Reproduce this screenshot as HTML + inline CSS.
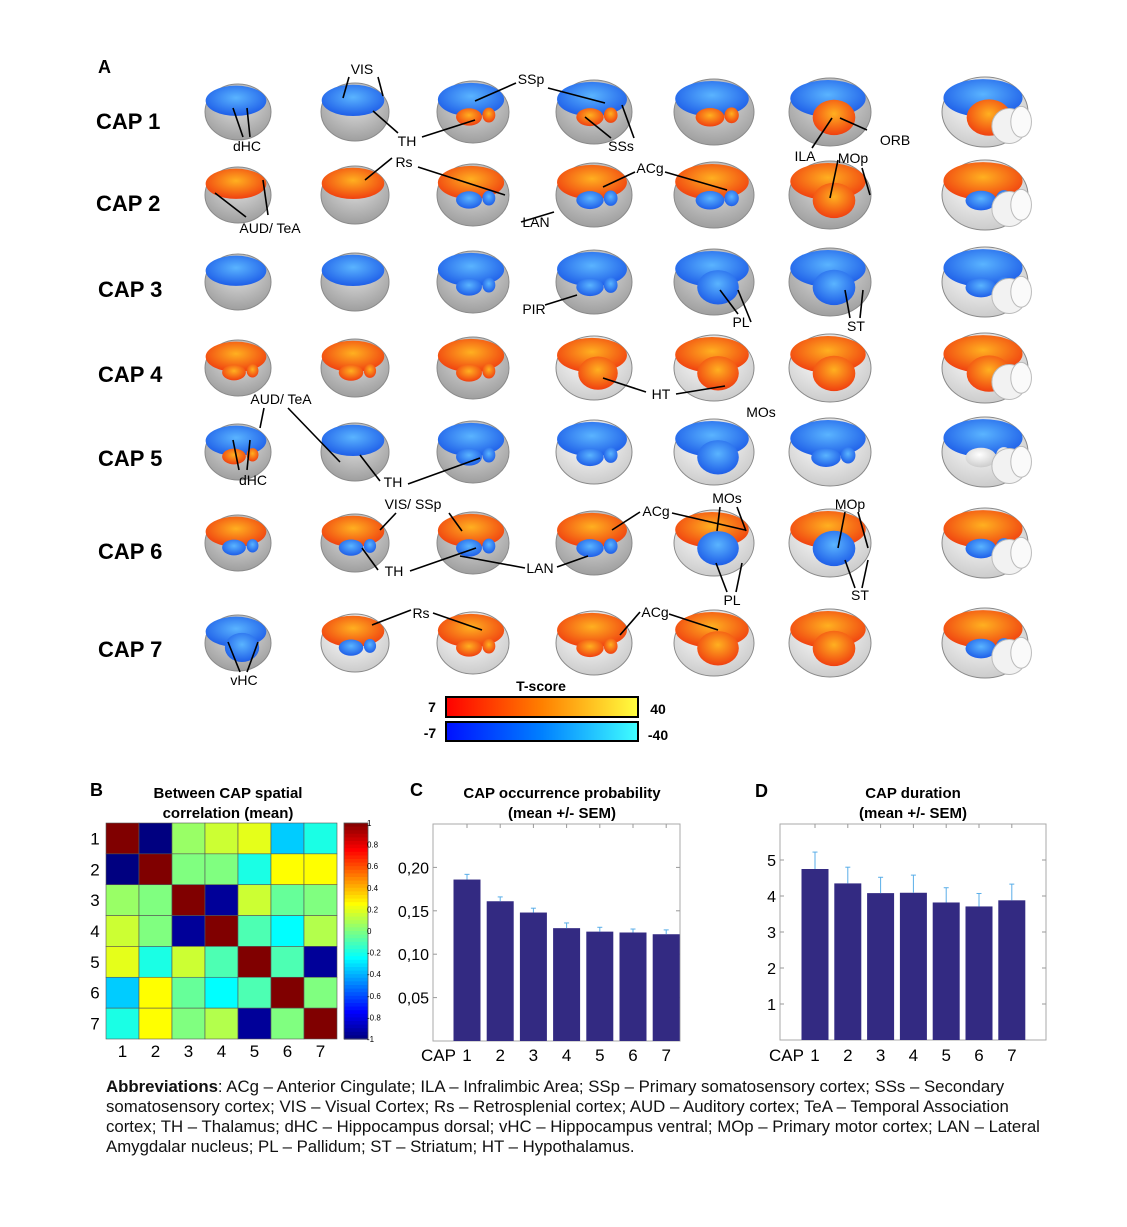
<!DOCTYPE html>
<html><head><meta charset="utf-8">
<style>
body{margin:0;background:#fff;}
#root{position:relative;width:1127px;height:1227px;overflow:hidden;font-family:"Liberation Sans",Arial,sans-serif;}
svg text{font-family:"Liberation Sans",Arial,sans-serif;}
.abbr{position:absolute;left:106px;top:1077px;width:945px;font-size:16.8px;line-height:20px;color:#111;}
</style></head>
<body>
<div id="root">
<svg id="fig" width="1127" height="1227" xmlns="http://www.w3.org/2000/svg">
<defs>
<linearGradient id="gRed" x1="0" x2="1"><stop offset="0" stop-color="#ff0000"/><stop offset="0.5" stop-color="#ff8000"/><stop offset="1" stop-color="#ffff40"/></linearGradient>
<linearGradient id="gBlue" x1="0" x2="1"><stop offset="0" stop-color="#0010ff"/><stop offset="0.5" stop-color="#0080ff"/><stop offset="1" stop-color="#40ffff"/></linearGradient>
<radialGradient id="rb" cx="0.5" cy="0.4" r="0.6"><stop offset="0" stop-color="#5ab4ff"/><stop offset="1" stop-color="#1e5ee8"/></radialGradient>
<radialGradient id="rr" cx="0.5" cy="0.4" r="0.6"><stop offset="0" stop-color="#ffb020"/><stop offset="1" stop-color="#f04010"/></radialGradient>
<radialGradient id="rg" cx="0.5" cy="0.35" r="0.7"><stop offset="0" stop-color="#e0e0e0"/><stop offset="1" stop-color="#9a9a9a"/></radialGradient>
<radialGradient id="rw" cx="0.45" cy="0.35" r="0.7"><stop offset="0" stop-color="#ffffff"/><stop offset="1" stop-color="#c8c8c8"/></radialGradient>
</defs>
<text x="98" y="73" font-size="18" font-weight="bold">A</text>
<g id="brains"></g>
<g id="labels"></g>
<g>
<text x="541" y="691" font-size="14" font-weight="bold" text-anchor="middle">T-score</text>
<rect x="446" y="697" width="192" height="20" fill="url(#gRed)" stroke="#000" stroke-width="2"/>
<rect x="446" y="722" width="192" height="19" fill="url(#gBlue)" stroke="#000" stroke-width="2"/>
<text x="432" y="712" font-size="14" font-weight="bold" text-anchor="middle">7</text>
<text x="658" y="714" font-size="14" font-weight="bold" text-anchor="middle">40</text>
<text x="430" y="738" font-size="14" font-weight="bold" text-anchor="middle">-7</text>
<text x="658" y="740" font-size="14" font-weight="bold" text-anchor="middle">-40</text>
</g>
<g id="panelB"></g>
<g id="panelC"></g>
<g id="panelD"></g>
</svg>
<div class="abbr"><b>Abbreviations</b>: ACg – Anterior Cingulate; ILA – Infralimbic Area; SSp – Primary somatosensory cortex; SSs – Secondary somatosensory cortex; VIS – Visual Cortex; Rs – Retrosplenial cortex; AUD – Auditory cortex; TeA – Temporal Association cortex; TH – Thalamus; dHC – Hippocampus dorsal; vHC – Hippocampus ventral; MOp – Primary motor cortex; LAN – Lateral Amygdalar nucleus; PL – Pallidum; ST – Striatum; HT – Hypothalamus.</div>
</div>
<script>
// ---------- Panel B data ----------
const capIds = ["1","2","3","4","5","6","7"];
const corrRow1 = [1,-1,0.05,0.15,0.2,-0.35,-0.2];
const corrRow2 = [-1,1,0.0,0.0,-0.2,0.25,0.25];
const corrRow3 = [0.05,0.0,1,-0.95,0.15,-0.05,0.0];
const corrRow4 = [0.15,0.0,-0.95,1,-0.1,-0.25,0.1];
const corrRow5 = [0.2,-0.2,0.15,-0.1,1,-0.1,-0.95];
const corrRow6 = [-0.35,0.25,-0.05,-0.25,-0.1,1,0.0];
const corrRow7 = [-0.2,0.25,0.0,0.1,-0.95,0.0,1];
const colorbarTicks = [1,0.8,0.6,0.4,0.2,0,-0.2,-0.4,-0.6,-0.8,-1];
// ---------- Panel C data ----------
const occMean = [0.186,0.161,0.148,0.130,0.126,0.125,0.123];
const occErr = [0.006,0.005,0.005,0.006,0.005,0.004,0.005];
const occTicks = [0.05,0.10,0.15,0.20];
const occTickLabels = ["0,05","0,10","0,15","0,20"];
// ---------- Panel D data ----------
const durMean = [4.75,4.35,4.08,4.09,3.82,3.71,3.88];
const durErr = [0.47,0.45,0.44,0.49,0.41,0.36,0.45];
const durTicks = [1,2,3,4,5];

const NS="http://www.w3.org/2000/svg";
function mk(parent,tag,attrs,txt){const e=document.createElementNS(NS,tag);for(const k in attrs)e.setAttribute(k,attrs[k]);if(txt!==undefined)e.textContent=txt;parent.appendChild(e);return e;}

// ---------- Brains ----------
const bx=[238,355,473,594,714,830,985], by=[112,195,282,368,452,543,643];
const ly=[121,203,289,374,458,551,649];
const bw=[66,68,72,76,80,82,86], bh=[56,58,62,64,66,68,70];
const rowSpec=[
 [["b","g","g"],["b","g","g"],["b","r","g"],["b","r","g"],["b","r","g"],["b","R","g"],["b","R","w"]],
 [["r","g","g"],["r","g","g"],["r","b","g"],["r","b","g"],["r","b","g"],["r","R","g"],["r","b","w"]],
 [["b","g","g"],["b","g","g"],["b","b","g"],["b","b","g"],["b","B","g"],["b","B","g"],["b","b","w"]],
 [["r","r","g"],["r","r","g"],["r","r","g"],["r","R","w"],["r","R","w"],["r","R","w"],["r","R","w"]],
 [["b","r","g"],["b","g","g"],["b","b","g"],["b","b","w"],["b","B","w"],["b","b","w"],["b","w","w"]],
 [["r","b","g"],["r","b","g"],["r","b","g"],["r","b","g"],["r","B","w"],["r","B","w"],["r","b","w"]],
 [["b","B","g"],["r","b","w"],["r","r","w"],["r","r","w"],["r","R","w"],["r","R","w"],["r","b","w"]]
];
const fillOf={b:"url(#rb)",B:"url(#rb)",r:"url(#rr)",R:"url(#rr)",g:"url(#rg)",w:"url(#rw)"};
const brains=document.getElementById('brains');
for(let r=0;r<7;r++){
  const t=mk(brains,'text',{x:r<2?96:98,y:ly[r]+8,'font-size':22,'font-weight':'bold'},'CAP '+(r+1));
  
  
  for(let c=0;c<7;c++){
    const s=rowSpec[r][c],cx=bx[c],cy=by[r],w=bw[c],h=bh[c];
    const g=mk(brains,'g',{});
    
    
    mk(g,'ellipse',{cx:cx,cy:cy,rx:w/2,ry:h/2,fill:fillOf[s[2]],stroke:'#8a8a8a','stroke-width':1});
    mk(g,'ellipse',{cx:cx-2,cy:cy-h*0.2,rx:w*0.46,ry:h*0.27,fill:fillOf[s[0]]});
    if(s[1]!=='g'){
      const big=(s[1]===s[1].toUpperCase());
      mk(g,'ellipse',{cx:cx+(big?4:-4),cy:cy+h*0.08,rx:w*(big?0.26:0.18),ry:h*(big?0.26:0.14),fill:fillOf[s[1]]});
      if(!big) mk(g,'ellipse',{cx:cx+w*0.22,cy:cy+h*0.05,rx:w*0.09,ry:h*0.12,fill:fillOf[s[1]]});
    }
    if(c===6){
      mk(g,'ellipse',{cx:cx+w*0.28,cy:cy+h*0.2,rx:w*0.2,ry:h*0.25,fill:'#f2f2f2',stroke:'#bbb'});
      mk(g,'ellipse',{cx:cx+w*0.42,cy:cy+h*0.14,rx:w*0.12,ry:h*0.22,fill:'#fafafa',stroke:'#bbb'});
    }
  }
}
// ---------- Annotations ----------
const labs=[["VIS",362,69],["SSp",531,79],["dHC",247,146],["TH",407,141],["SSs",621,146],["ORB",895,140],["ILA",805,156],["MOp",853,158],["Rs",404,162],["ACg",650,168],["AUD/ TeA",270,228],["LAN",536,222],["PIR",534,309],["PL",741,322],["ST",856,326],["HT",661,394],["AUD/ TeA",281,399],["MOs",761,412],["dHC",253,480],["TH",393,482],["VIS/ SSp",413,504],["ACg",656,511],["MOs",727,498],["MOp",850,504],["TH",394,571],["LAN",540,568],["PL",732,600],["ST",860,595],["Rs",421,613],["ACg",655,612],["vHC",244,680]];
const lines=[[233,108,243,137],[247,108,250,137],[349,77,343,98],[378,77,383,96],[398,133,373,111],[422,137,475,120],[516,83,475,101],[548,88,605,103],[611,138,585,117],[634,138,622,105],[867,130,840,118],[812,148,832,118],[838,160,830,198],[862,168,870,195],[392,158,365,180],[418,167,505,195],[246,217,215,193],[268,215,263,180],[635,172,603,187],[665,172,727,190],[521,222,554,212],[545,305,577,295],[738,314,720,290],[751,322,738,290],[850,318,845,290],[860,318,863,290],[646,392,603,378],[676,394,725,386],[264,408,260,428],[288,408,340,462],[239,470,233,440],[247,470,250,440],[380,481,360,455],[408,484,480,458],[396,513,380,530],[449,513,462,531],[640,512,612,530],[672,513,745,530],[720,507,717,531],[737,507,746,531],[845,512,838,548],[858,512,868,548],[378,570,362,548],[410,571,476,548],[525,568,460,556],[557,567,588,556],[727,592,716,563],[736,592,742,563],[855,588,845,560],[862,588,868,560],[411,610,372,625],[433,613,482,630],[640,612,620,635],[669,614,718,630],[240,672,228,642],[247,672,258,642]];
const L=document.getElementById('labels');
lines.forEach(l=>{const e=mk(L,'line',{x1:l[0],y1:l[1],x2:l[2],y2:l[3],stroke:'#000','stroke-width':1.6});
 
 });
labs.forEach(l=>{const e=mk(L,'text',{x:l[1],y:l[2]+5,'font-size':14,'text-anchor':'middle'},l[0]);
 
 });

// ---------- Panel B ----------
function jet(v){const t=(v+1)/2;const f=x=>Math.max(0,Math.min(1,x));
 const r=f(1.5-Math.abs(4*t-3)),g=f(1.5-Math.abs(4*t-2)),b=f(1.5-Math.abs(4*t-1));
 return `rgb(${Math.round(r*255)},${Math.round(g*255)},${Math.round(b*255)})`;}
const B=document.getElementById('panelB');
const hx0=106,hx1=337,hy0=823,hy1=1039,cw=(hx1-hx0)/7,ch=(hy1-hy0)/7;
const corr=[corrRow1,corrRow2,corrRow3,corrRow4,corrRow5,corrRow6,corrRow7];
let e;
e=mk(B,'text',{x:90,y:796,'font-size':18,'font-weight':'bold'},'B');
e=mk(B,'text',{x:228,y:798,'font-size':15,'font-weight':'bold','text-anchor':'middle'},'Between CAP spatial');
e=mk(B,'text',{x:228,y:818,'font-size':15,'font-weight':'bold','text-anchor':'middle'},'correlation (mean)');
corr.forEach((row,i)=>row.forEach((v,j)=>{
 const c=mk(B,'rect',{x:hx0+j*cw,y:hy0+i*ch,width:cw,height:ch,fill:jet(v),stroke:'#555','stroke-width':0.6});
 
 }));
capIds.forEach((id,i)=>{
 let t=mk(B,'text',{x:95,y:hy0+(i+0.5)*ch+6,'font-size':17,'text-anchor':'middle'},id);
 t=mk(B,'text',{x:hx0+(i+0.5)*cw,y:1057,'font-size':17,'text-anchor':'middle'},id);});
for(let k=0;k<60;k++){const v=1-2*k/60;const r=mk(B,'rect',{x:344,y:hy0+k*(hy1-hy0)/60,width:24,height:(hy1-hy0)/60+0.6,fill:jet(v-1/60)});
 }
e=mk(B,'rect',{x:344,y:hy0,width:24,height:hy1-hy0,fill:'none',stroke:'#555','stroke-width':0.8});
colorbarTicks.forEach(v=>{const y=hy0+(1-v)/2*(hy1-hy0);
 const t=mk(B,'text',{x:367,y:y+3,'font-size':8},String(v));});

// ---------- Bar chart helper ----------
function bars(G,x0,x1,y0,y1,ymax,mean,err,ticks,tickLabels,c0,step,bwid,lbl,t1,t2,tx){
 const ys=v=>y1-(v/ymax)*(y1-y0);
 let t=mk(G,'text',{x:lbl[0],y:lbl[1],'font-size':18,'font-weight':'bold'},lbl[2]);
 t=mk(G,'text',{x:tx,y:798,'font-size':15,'font-weight':'bold','text-anchor':'middle'},t1);
 t=mk(G,'text',{x:tx,y:818,'font-size':15,'font-weight':'bold','text-anchor':'middle'},t2);
 const fr=mk(G,'rect',{x:x0,y:y0,width:x1-x0,height:y1-y0,fill:'#fff',stroke:'#aaa','stroke-width':1});
 ticks.forEach((v,i)=>{const y=ys(v);
  mk(G,'line',{x1:x0,x2:x0+4,y1:y,y2:y,stroke:'#999'});mk(G,'line',{x1:x1-4,x2:x1,y1:y,y2:y,stroke:'#999'});
  const l=mk(G,'text',{x:x0-4,y:y+6,'font-size':16,'text-anchor':'end'},tickLabels[i]);});
 mean.forEach((m,i)=>{const cx=c0+i*step;
  const b=mk(G,'rect',{x:cx-bwid/2,y:ys(m),width:bwid,height:y1-ys(m),fill:'#332a82'});
  const eb=mk(G,'line',{x1:cx,x2:cx,y1:ys(m),y2:ys(m+err[i]),stroke:'#5aaee8','stroke-width':1});
  mk(G,'line',{x1:cx-2.5,x2:cx+2.5,y1:ys(m+err[i]),y2:ys(m+err[i]),stroke:'#5aaee8','stroke-width':1});
  const l=mk(G,'text',{x:cx,y:1061,'font-size':17,'text-anchor':'middle'},capIds[i]);
  mk(G,'line',{x1:cx,x2:cx,y1:y0,y2:y0+4,stroke:'#999'});});
 const c=mk(G,'text',{x:c0-11,y:1061,'font-size':17,'text-anchor':'end'},'CAP');
}
bars(document.getElementById('panelC'),433,680,824,1041,0.25,occMean,occErr,occTicks,occTickLabels,467,33.2,27,[410,796,'C'],'CAP occurrence probability','(mean +/- SEM)',562);
bars(document.getElementById('panelD'),780,1046,824,1040,6,durMean,durErr,durTicks,durTicks.map(String),815,32.8,27,[755,797,'D'],'CAP duration','(mean +/- SEM)',913);
</script>
</body></html>
